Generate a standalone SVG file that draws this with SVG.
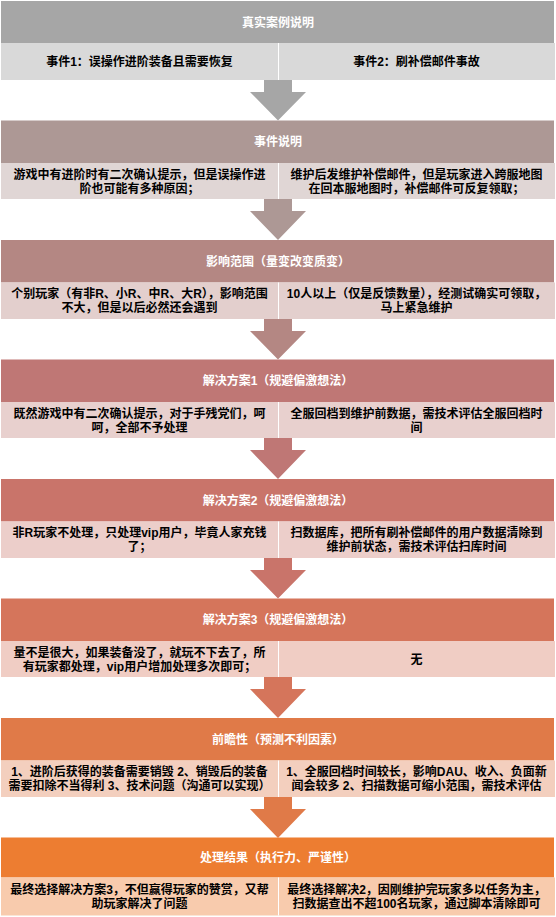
<svg xmlns="http://www.w3.org/2000/svg" width="556" height="917" viewBox="0 0 556 917">
<style>
text{font-family:"Liberation Sans","Noto Sans CJK SC",sans-serif;font-size:12px;text-anchor:middle}
.h{fill:#ffffff;font-weight:bold;font-size:12px}
.c{fill:#000000;font-weight:bold}
.div{stroke:#ffffff;stroke-width:1}
</style>
<rect width="556" height="917" fill="#ffffff"/>
<g id="connectors">
<path d="M264 80H292V92H306L278 120.5L250 92H264Z" fill="#a6a6a6"/>
<path d="M264 199H292V211H306L278 240L250 211H264Z" fill="#ad9895"/>
<path d="M264 319H292V331H306L278 359.5L250 331H264Z" fill="#b48783"/>
<path d="M264 438H292V450H306L278 479L250 450H264Z" fill="#bf7775"/>
<path d="M264 558H292V570H306L278 598.5L250 570H264Z" fill="#c9746a"/>
<path d="M264 677H292V689H306L278 718L250 689H264Z" fill="#d5755b"/>
<path d="M264 797H292V809H306L278 838L250 809H264Z" fill="#e07a48"/>
</g>
<g id="node1">
<rect x="1" y="1" width="553" height="42" fill="#a6a6a6"/>
<rect x="1" y="43" width="554" height="37" fill="#d9d9d9"/>
<line class="div" x1="278.5" y1="43" x2="278.5" y2="80"/>
<text class="h" x="278" y="26.5">真实案例说明</text>
<text class="c" x="139.5" y="65.5">事件1：误操作进阶装备且需要恢复</text>
<text class="c" x="416.5" y="65.5">事件2：刷补偿邮件事故</text>
</g>
<g id="node2">
<rect x="1" y="120.5" width="553" height="42.5" fill="#ad9895"/>
<rect x="1" y="163" width="554" height="36" fill="#e0d6d5"/>
<line class="div" x1="278.5" y1="163" x2="278.5" y2="199"/>
<text class="h" x="278" y="146">事件说明</text>
<text class="c" x="139.5" y="178.5">游戏中有进阶时有二次确认提示，但是误操作进<tspan x="139.5" dy="14">阶也可能有多种原因；</tspan></text>
<text class="c" x="416.5" y="178.5">维护后发维护补偿邮件，但是玩家进入跨服地图<tspan x="416.5" dy="14">在回本服地图时，补偿邮件可反复领取；</tspan></text>
</g>
<g id="node3">
<rect x="1" y="240" width="553" height="42.5" fill="#b48783"/>
<rect x="1" y="282.5" width="554" height="36.5" fill="#e3cfcd"/>
<line class="div" x1="278.5" y1="282.5" x2="278.5" y2="319"/>
<text class="h" x="278" y="265.5">影响范围（量变改变质变）</text>
<text class="c" x="139.5" y="298">个别玩家（有非R、小R、中R、大R），影响范围<tspan x="139.5" dy="14">不大，但是以后必然还会遇到</tspan></text>
<text class="c" x="416.5" y="298">10人以上（仅是反馈数量），经测试确实可领取，<tspan x="416.5" dy="14">马上紧急维护</tspan></text>
</g>
<g id="node4">
<rect x="1" y="359.5" width="553" height="42.5" fill="#bf7775"/>
<rect x="1" y="402" width="554" height="36" fill="#e8d0ce"/>
<line class="div" x1="278.5" y1="402" x2="278.5" y2="438"/>
<text class="h" x="278" y="385">解决方案1（规避偏激想法）</text>
<text class="c" x="139.5" y="417.5">既然游戏中有二次确认提示，对于手残党们，呵<tspan x="139.5" dy="14">呵，全部不予处理</tspan></text>
<text class="c" x="416.5" y="417.5">全服回档到维护前数据，需技术评估全服回档时<tspan x="416.5" dy="14">间</tspan></text>
</g>
<g id="node5">
<rect x="1" y="479" width="553" height="42.5" fill="#c9746a"/>
<rect x="1" y="521.5" width="554" height="36.5" fill="#ecceca"/>
<line class="div" x1="278.5" y1="521.5" x2="278.5" y2="558"/>
<text class="h" x="278" y="504.5">解决方案2（规避偏激想法）</text>
<text class="c" x="139.5" y="537">非R玩家不处理，只处理vip用户，毕竟人家充钱<tspan x="139.5" dy="14">了；</tspan></text>
<text class="c" x="416.5" y="537">扫数据库，把所有刷补偿邮件的用户数据清除到<tspan x="416.5" dy="14">维护前状态，需技术评估扫库时间</tspan></text>
</g>
<g id="node6">
<rect x="1" y="598.5" width="553" height="42.5" fill="#d5755b"/>
<rect x="1" y="641" width="554" height="36" fill="#f0cdc4"/>
<line class="div" x1="278.5" y1="641" x2="278.5" y2="677"/>
<text class="h" x="278" y="624">解决方案3（规避偏激想法）</text>
<text class="c" x="139.5" y="656.5">量不是很大，如果装备没了，就玩不下去了，所<tspan x="139.5" dy="14">有玩家都处理，vip用户增加处理多次即可；</tspan></text>
<text class="c" x="416.5" y="663.5">无</text>
</g>
<g id="node7">
<rect x="1" y="718" width="553" height="42.5" fill="#e07a48"/>
<rect x="1" y="760.5" width="554" height="36.5" fill="#f3cfbe"/>
<line class="div" x1="278.5" y1="760.5" x2="278.5" y2="797"/>
<text class="h" x="278" y="743.5">前瞻性（预测不利因素）</text>
<text class="c" x="139.5" y="776">1、进阶后获得的装备需要销毁 2、销毁后的装备<tspan x="139.5" dy="14">需要扣除不当得利 3、技术问题（沟通可以实现）</tspan></text>
<text class="c" x="416.5" y="776">1、全服回档时间较长，影响DAU、收入、负面新<tspan x="416.5" dy="14">闻会较多 2、扫描数据可缩小范围，需技术评估</tspan></text>
</g>
<g id="node8">
<rect x="1" y="837.5" width="553" height="40" fill="#ed7d31"/>
<rect x="1" y="877.5" width="554" height="38" fill="#f8cbad"/>
<line class="div" x1="278.5" y1="877.5" x2="278.5" y2="915.5"/>
<text class="h" x="278" y="862">处理结果（执行力、严谨性）</text>
<text class="c" x="139.5" y="894">最终选择解决方案3，不但赢得玩家的赞赏，又帮<tspan x="139.5" dy="14">助玩家解决了问题</tspan></text>
<text class="c" x="416.5" y="894">最终选择解决2，因刚维护完玩家多以任务为主，<tspan x="416.5" dy="14">扫数据查出不超100名玩家，通过脚本清除即可</tspan></text>
</g>
</svg>
